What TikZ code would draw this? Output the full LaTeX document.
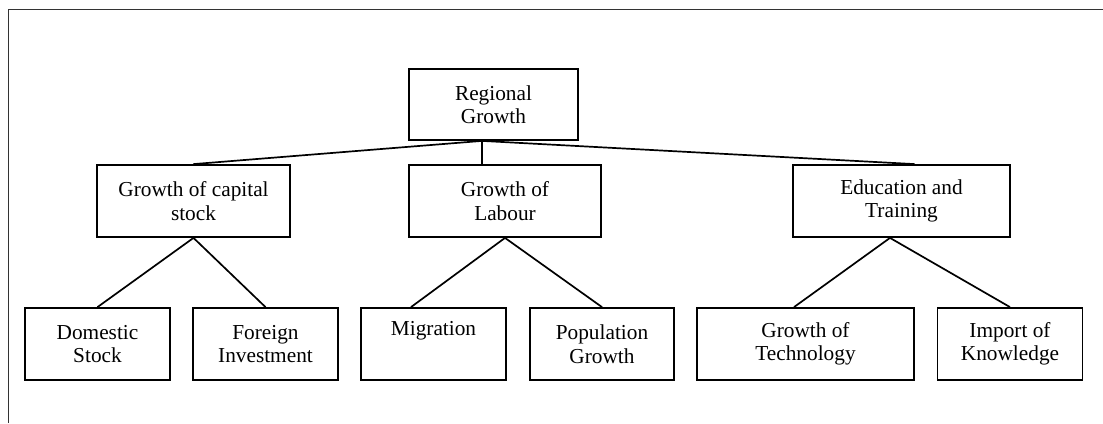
\documentclass[tikz,border=0pt]{standalone}
\usepackage{fontspec}
\setmainfont{Liberation Serif}
\usetikzlibrary{calc}
\begin{document}
\begin{tikzpicture}[x=1pt,y=-1pt,
  box/.style={draw=black,line width=1.8pt,inner sep=0pt,align=center,
    font=\fontsize{21.3}{23.5}\selectfont,minimum height=72pt},
  link/.style={draw=black,line width=1.7pt},
  frame/.style={draw=black!80,line width=1.6pt}]
\useasboundingbox (0,0) rectangle (1103,423);
% open frame: top and left edges only
\draw[frame] (8.5,423) -- (8.5,9.5) -- (1103,9.5);

% top level
\node[box,minimum width=169pt,minimum height=71pt] (root) at (493.5,104.5) {Regional\\Growth};

% second level
\node[box,minimum width=193pt] (cap) at (193.5,201) {Growth of capital\\stock};
\node[box,minimum width=192pt] (lab) at (505,201) {Growth of\\Labour};
\node[box,minimum width=217pt] (edu) at (901.5,201) {Education and\\Training};

% third level
\node[box,minimum width=145pt] (dom) at (97.5,344) {Domestic\\Stock};
\node[box,minimum width=145pt] (for) at (265.5,344) {Foreign\\Investment};
\node[box,minimum width=145pt] (mig) at (433.5,344) {Migration\\\strut};
\node[box,minimum width=144pt] (pop) at (602,344) {Population\\Growth};
\node[box,minimum width=217pt] (tec) at (805.5,344) {Growth of\\Technology};
\node[box,minimum width=145pt] (imp) at (1010,344) {Import of\\Knowledge};

% connectors
\coordinate (hub) at ($(root.south)+(-11.5,0)$);
\draw[link] (hub) -- (cap.north);
\draw[link] (hub) -- (hub |- lab.north);
\draw[link] (hub) -- ($(edu.north)+(13,0)$);

\draw[link] (dom.north) -- (cap.south) -- (for.north);
\draw[link] ($(mig.north)+(-22.5,0)$) -- (lab.south) -- (pop.north);
\draw[link] ($(tec.north)+(-11.5,0)$) -- ($(edu.south)+(-11.5,0)$) -- (imp.north);
\end{tikzpicture}
\end{document}
